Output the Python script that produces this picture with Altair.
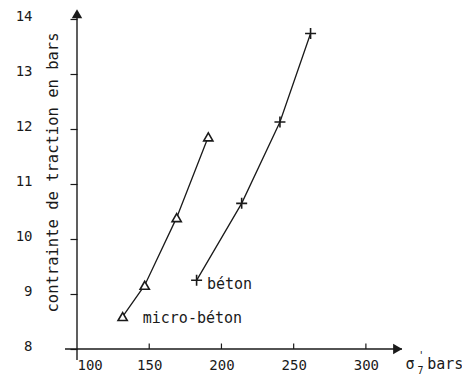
import altair as alt
import pandas as pd

# data
micro_x = [131.6, 146.9, 169.0, 190.9]
micro_y = [8.59, 9.16, 10.39, 11.86]
beton_x = [182.8, 214.0, 240.5, 261.7]
beton_y = [9.25, 10.65, 12.13, 13.74]

x_ticks = [100, 150, 200, 250, 300]
y_ticks = [8, 9, 10, 11, 12, 13, 14]

labels = ["micro-béton", "béton"]
label_x = [145.5, 190.0]
label_y = [8.56, 9.18]

FONT = "DejaVu Sans Mono"
INK = "#1a1a1a"

micro = pd.DataFrame({"x": micro_x, "y": micro_y})
beton = pd.DataFrame({"x": beton_x, "y": beton_y})

xs = alt.Scale(domain=[100, 325], nice=False, zero=False)
ys = alt.Scale(domain=[8, 14.15], nice=False, zero=False)

X = alt.X("x:Q", scale=xs,
          axis=alt.Axis(values=x_ticks, format="d", domain=False, ticks=False, grid=False,
                        labelPadding=9, labelFlush=True, title=None,
                        labelFont=FONT, labelFontSize=14, labelColor=INK))
Y = alt.Y("y:Q", scale=ys,
          axis=alt.Axis(values=y_ticks, format="d", domain=False, ticks=True, tickSize=7,
                        tickColor=INK, tickWidth=1.2, grid=False,
                        labelPadding=38, labelOffset=-3,
                        labelFont=FONT, labelFontSize=14, labelColor=INK,
                        title="contrainte de traction en bars",
                        titleFont=FONT, titleFontSize=15.5, titleFontWeight="normal",
                        titleColor=INK, titleAngle=270, titleX=-25, titleY=161,
                        titleAlign="center", titleBaseline="middle"))

base_x = alt.X("x:Q", scale=xs)
base_y = alt.Y("y:Q", scale=ys)

# axes lines
xaxis_line = alt.Chart(pd.DataFrame({"x": [91.7], "x2": [325], "y": [8]})).mark_rule(
    color=INK, strokeWidth=1.4, clip=False).encode(x=X, x2="x2:Q", y=Y)
yaxis_line = alt.Chart(pd.DataFrame({"x": [100], "y": [7.8], "y2": [14.15]})).mark_rule(
    color=INK, strokeWidth=1.4, clip=False).encode(x=base_x, y=base_y, y2="y2:Q")
xtick_df = pd.DataFrame({"x": x_ticks[1:], "y": [8] * 4, "y2": [8.1] * 4})
xtick_rules = alt.Chart(xtick_df).mark_rule(color=INK, strokeWidth=1.2, clip=False).encode(
    x=base_x, y=base_y, y2="y2:Q")
arrow_up = alt.Chart(pd.DataFrame({"x": [100], "y": [14.1]})).mark_point(
    shape="triangle-up", size=110, filled=True, color=INK, opacity=1, clip=False).encode(
    x=base_x, y=base_y)
arrow_right = alt.Chart(pd.DataFrame({"x": [322], "y": [8]})).mark_point(
    shape="triangle-right", size=110, filled=True, color=INK, opacity=1, clip=False).encode(
    x=base_x, y=base_y)

# series
micro_line = alt.Chart(micro).mark_line(color=INK, strokeWidth=1.3, interpolate="linear",
                                        clip=False).encode(x=base_x, y=base_y)
micro_pts = alt.Chart(micro).mark_point(shape="triangle-up", size=85, filled=True, fill="white",
                                        stroke=INK, strokeWidth=1.6, opacity=1,
                                        clip=False).encode(x=base_x, y=base_y)
beton_line = alt.Chart(beton).mark_line(color=INK, strokeWidth=1.3, interpolate="linear",
                                        clip=False).encode(x=base_x, y=base_y)
beton_pts = alt.Chart(beton).mark_point(shape="M-1,0L1,0M0,-1L0,1", size=121, filled=False,
                                        stroke=INK, strokeWidth=1.6, opacity=1,
                                        clip=False).encode(x=base_x, y=base_y)

lab_df = pd.DataFrame({"x": label_x, "y": label_y, "t": labels})
series_labels = alt.Chart(lab_df).mark_text(font=FONT, fontSize=15, color=INK, align="left",
                                            baseline="middle", clip=False).encode(
    x=base_x, y=base_y, text="t:N")

# x axis title: sigma'_7 bars
xt_main_df = pd.DataFrame({"x": [327.5, 342.5], "y": [7.72, 7.72], "t": ["σ", "bars"]})
xt_small_df = pd.DataFrame({"x": [336.3, 335.8], "y": [7.87, 7.6], "t": ["'", "7"]})
xt_main = alt.Chart(xt_main_df).mark_text(font=FONT, fontSize=15, color=INK, align="left",
                                          baseline="middle", clip=False).encode(
    x=base_x, y=base_y, text="t:N")
xt_small = alt.Chart(xt_small_df).mark_text(font=FONT, fontSize=10, color=INK, align="left",
                                            baseline="middle", clip=False).encode(
    x=base_x, y=base_y, text="t:N")

axis_holder = alt.Chart(pd.DataFrame({"x": [100], "y": [8]})).mark_point(opacity=0).encode(x=X, y=Y)

chart = alt.layer(
    axis_holder, xaxis_line, yaxis_line, xtick_rules, arrow_up, arrow_right,
    micro_line, beton_line, micro_pts, beton_pts, series_labels, xt_main, xt_small
).properties(
    width=325, height=338,
    autosize=alt.AutoSizeParams(type="none"),
    padding={"left": 69, "top": 3, "right": 60, "bottom": 28},
    background="white",
).configure_view(stroke=None)

chart.save("out.html", embed_options={"renderer": "svg", "actions": False})
